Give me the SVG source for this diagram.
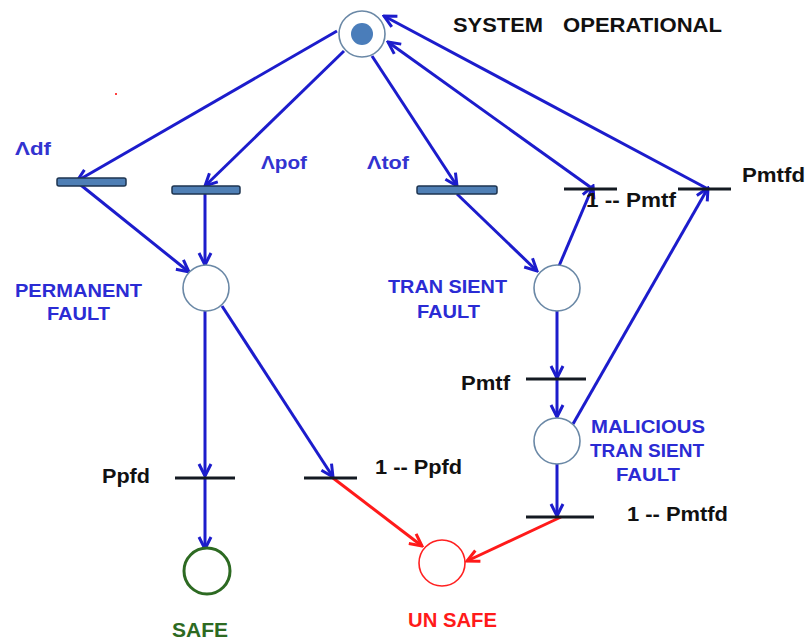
<svg xmlns="http://www.w3.org/2000/svg" width="809" height="640" viewBox="0 0 809 640">
  <style>
    .place { fill: #ffffff; stroke: #6a88a6; stroke-width: 1.6; }
    .bar { fill: #4f7fb5; stroke: #1e3550; stroke-width: 1.5; }
    .tick { stroke: #141a22; stroke-width: 3; }
    .arc { fill: none; stroke: #1c1ccc; stroke-width: 3; marker-end: url(#arrowBlue); }
    .arc-red { fill: none; stroke: #ff1a1a; stroke-width: 3; marker-end: url(#arrowRed); }
    text { font-family: "Liberation Sans", Arial, sans-serif; font-weight: bold; }
    .lbl { fill: #111111; font-size: 21px; }
    .state { fill: #2b2bd4; font-size: 18px; }
    .rate { fill: #3333d0; font-size: 19px; }
  </style>
  <defs>
    <marker id="arrowBlue" markerUnits="userSpaceOnUse" markerWidth="16" markerHeight="16" viewBox="0 0 16 16" refX="14" refY="8" orient="auto">
      <path d="M2,2 L14,8 L2,14" fill="none" stroke="#1c1ccc" stroke-width="3"/>
    </marker>
    <marker id="arrowRed" markerUnits="userSpaceOnUse" markerWidth="16" markerHeight="16" viewBox="0 0 16 16" refX="14" refY="8" orient="auto">
      <path d="M2,2 L14,8 L2,14" fill="none" stroke="#ff1a1a" stroke-width="3"/>
    </marker>
  </defs>

  <!-- arcs between places and transitions -->
  <g id="connectors">
    <line class="arc" x1="337" y1="31" x2="77" y2="181"/>
    <line class="arc" x1="344" y1="51" x2="205" y2="186"/>
    <line class="arc" x1="372" y1="56" x2="457" y2="186"/>
    <line class="arc" x1="77" y1="182" x2="189" y2="272"/>
    <line class="arc" x1="205" y1="194" x2="205" y2="265"/>
    <line class="arc" x1="457" y1="194" x2="537" y2="271"/>
    <line class="arc" x1="559" y1="266" x2="593" y2="186"/>
    <line class="arc" x1="593" y1="189" x2="388" y2="42"/>
    <line class="arc" x1="708" y1="189" x2="384" y2="16"/>
    <line class="arc" x1="573" y1="424" x2="708" y2="188"/>
    <line class="arc" x1="557" y1="311" x2="557" y2="378"/>
    <line class="arc" x1="557" y1="380" x2="557" y2="417"/>
    <line class="arc" x1="557" y1="464" x2="557" y2="516"/>
    <line class="arc" x1="205" y1="311" x2="205" y2="476"/>
    <line class="arc" x1="205" y1="478" x2="205" y2="549"/>
    <line class="arc" x1="222" y1="306" x2="333" y2="477"/>
    <line class="arc-red" x1="333" y1="478" x2="422" y2="546"/>
    <line class="arc-red" x1="561" y1="517" x2="467" y2="561"/>
  </g>

  <!-- places -->
  <g id="system-operational">
    <circle class="place" cx="362" cy="34" r="23"/>
    <circle cx="362" cy="34" r="11" fill="#4a7dba"/>
    <text class="lbl" x="453" y="32" textLength="90" lengthAdjust="spacingAndGlyphs">SYSTEM</text>
    <text class="lbl" x="563" y="32" textLength="159" lengthAdjust="spacingAndGlyphs">OPERATIONAL</text>
  </g>
  <g id="permanent-fault">
    <circle class="place" cx="206" cy="288" r="23"/>
    <text class="state" x="15" y="297" textLength="127" lengthAdjust="spacingAndGlyphs">PERMANENT</text>
    <text class="state" x="47" y="320" textLength="63" lengthAdjust="spacingAndGlyphs">FAULT</text>
  </g>
  <g id="transient-fault">
    <circle class="place" cx="557" cy="288" r="23"/>
    <text class="state" x="388" y="293" textLength="119" lengthAdjust="spacingAndGlyphs">TRAN SIENT</text>
    <text class="state" x="417" y="318" textLength="63" lengthAdjust="spacingAndGlyphs">FAULT</text>
  </g>
  <g id="malicious-transient-fault">
    <circle class="place" cx="557" cy="441" r="23"/>
    <text class="state" x="591" y="433" textLength="114" lengthAdjust="spacingAndGlyphs">MALICIOUS</text>
    <text class="state" x="590" y="457" textLength="114" lengthAdjust="spacingAndGlyphs">TRAN SIENT</text>
    <text class="state" x="616" y="481" textLength="64" lengthAdjust="spacingAndGlyphs">FAULT</text>
  </g>
  <g id="safe">
    <circle cx="207" cy="571" r="23" fill="#ffffff" stroke="#2d6a22" stroke-width="3"/>
    <text x="172" y="637" font-size="20" fill="#2d6a22" textLength="56" lengthAdjust="spacingAndGlyphs">SAFE</text>
  </g>
  <g id="unsafe">
    <circle cx="442" cy="563" r="23" fill="#ffffff" stroke="#ff2020" stroke-width="1.6"/>
    <text x="408" y="627" font-size="20" fill="#ff1a1a" textLength="89" lengthAdjust="spacingAndGlyphs">UN SAFE</text>
  </g>

  <!-- timed transitions -->
  <g id="t-ldf">
    <rect class="bar" x="57" y="178" width="69" height="8" rx="2"/>
    <text class="rate" x="15" y="155" textLength="36" lengthAdjust="spacingAndGlyphs">Λdf</text>
  </g>
  <g id="t-lpof">
    <rect class="bar" x="172" y="186" width="68" height="8" rx="2"/>
    <text class="rate" x="261" y="169" textLength="46" lengthAdjust="spacingAndGlyphs">Λpof</text>
  </g>
  <g id="t-ltof">
    <rect class="bar" x="417" y="186" width="80" height="8" rx="2"/>
    <text class="rate" x="367" y="169" textLength="42" lengthAdjust="spacingAndGlyphs">Λtof</text>
  </g>

  <!-- immediate transitions -->
  <g id="t-1-pmtf">
    <line class="tick" x1="564" y1="189" x2="617" y2="189"/>
    <text class="lbl" x="586" y="207" textLength="90" lengthAdjust="spacingAndGlyphs">1 -- Pmtf</text>
  </g>
  <g id="t-pmtfd">
    <line class="tick" x1="678" y1="189" x2="731" y2="189"/>
    <text class="lbl" x="742" y="182" textLength="63" lengthAdjust="spacingAndGlyphs">Pmtfd</text>
  </g>
  <g id="t-pmtf">
    <line class="tick" x1="526" y1="379" x2="586" y2="379"/>
    <text class="lbl" x="461" y="390" textLength="49" lengthAdjust="spacingAndGlyphs">Pmtf</text>
  </g>
  <g id="t-ppfd">
    <line class="tick" x1="175" y1="478" x2="235" y2="478"/>
    <text class="lbl" x="102" y="483" textLength="48" lengthAdjust="spacingAndGlyphs">Ppfd</text>
  </g>
  <g id="t-1-ppfd">
    <line class="tick" x1="304" y1="478" x2="357" y2="478"/>
    <text class="lbl" x="375" y="474" textLength="87" lengthAdjust="spacingAndGlyphs">1 -- Ppfd</text>
  </g>
  <g id="t-1-pmtfd">
    <line class="tick" x1="526" y1="517" x2="594" y2="517"/>
    <text class="lbl" x="627" y="521" textLength="101" lengthAdjust="spacingAndGlyphs">1 -- Pmtfd</text>
  </g>

  <rect x="115" y="93" width="2" height="2" fill="#ff4040"/>
</svg>
